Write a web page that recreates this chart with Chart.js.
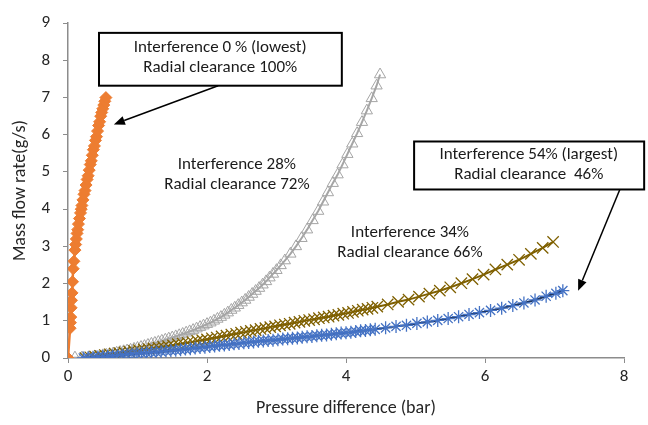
<!DOCTYPE html>
<html>
<head>
<meta charset="utf-8">
<script src="https://cdn.jsdelivr.net/npm/chart.js@4.4.1/dist/chart.umd.min.js"></script>
<style>
  html, body { margin: 0; padding: 0; background: #fff; }
  #wrap { width: 648px; height: 425px; position: relative; }
</style>
</head>
<body>
<div id="wrap"><canvas id="c" width="648" height="425"></canvas></div>
<script>
// Mass flow rate (g/s) against pressure difference (bar), one series per seal geometry.
const seriesNames = [
  'Interference 0 %, radial clearance 100%',
  'Interference 28%, radial clearance 72%',
  'Interference 34%, radial clearance 66%',
  'Interference 54%, radial clearance 46%'
];

// [pressure difference, mass flow rate]
const orangePoints = [
  [0,0],[0.03,0.8],[0.035,0.95],[0.04,1.1],[0.045,1.35],[0.05,1.55],[0.058,1.75],[0.065,2.05],[0.075,2.4],[0.085,2.6],
  [0.1,2.9],[0.11,3.05],[0.12,3.2],[0.13,3.35],[0.14,3.45],[0.15,3.6],[0.165,3.75],[0.18,3.9],[0.19,4.0],[0.2,4.1],
  [0.215,4.25],[0.23,4.4],[0.245,4.5],[0.26,4.65],[0.275,4.8],[0.29,4.9],[0.305,5.05],[0.32,5.2],[0.335,5.3],[0.35,5.45],
  [0.365,5.6],[0.38,5.7],[0.395,5.85],[0.41,5.95],[0.425,6.1],[0.44,6.25],[0.455,6.35],[0.47,6.5],[0.485,6.6],[0.5,6.7],
  [0.515,6.8],[0.53,6.9],[0.545,7.0]
];

const greyPoints = [
  [0,0],[0.1,0.01],[0.2,0.01],[0.3,0.02],[0.4,0.04],[0.5,0.07],[0.55,0.085],[0.6,0.1],[0.65,0.12],[0.7,0.14],
  [0.75,0.16],[0.8,0.18],[0.85,0.2],[0.9,0.22],[0.95,0.245],[1.0,0.27],[1.05,0.295],[1.1,0.32],[1.15,0.35],[1.2,0.38],
  [1.25,0.405],[1.3,0.43],[1.35,0.46],[1.4,0.49],[1.45,0.52],[1.5,0.55],[1.55,0.58],[1.6,0.61],[1.65,0.645],[1.7,0.68],
  [1.75,0.715],[1.8,0.75],[1.85,0.79],[1.9,0.83],[1.95,0.87],[2.0,0.91],[2.05,0.95],[2.1,1.0],[2.15,1.05],[2.2,1.1],
  [2.25,1.16],[2.3,1.22],[2.35,1.29],[2.4,1.35],[2.45,1.42],[2.5,1.49],[2.55,1.56],[2.6,1.64],[2.65,1.72],[2.7,1.8],
  [2.75,1.88],[2.8,1.97],[2.85,2.06],[2.9,2.16],[2.95,2.26],[3.0,2.36],[3.06,2.49],[3.12,2.62],[3.2,2.8],[3.28,3.0],
  [3.36,3.22],[3.44,3.45],[3.52,3.7],[3.6,3.95],[3.67,4.2],[3.74,4.45],[3.81,4.7],[3.88,4.93],[3.95,5.2],[4.02,5.48],
  [4.09,5.76],[4.16,6.04],[4.23,6.34],[4.3,6.65],[4.37,6.98],[4.44,7.32],[4.49,7.62]
];

const brownPoints = [
  [0.25,0.0],[0.32,0.02],[0.39,0.04],[0.46,0.06],[0.53,0.08],[0.6,0.1],[0.67,0.12],[0.74,0.13],[0.81,0.15],[0.88,0.17],
  [0.95,0.19],[1.02,0.21],[1.09,0.23],[1.16,0.24],[1.23,0.26],[1.3,0.28],[1.37,0.3],[1.44,0.32],[1.51,0.34],[1.58,0.37],
  [1.65,0.39],[1.72,0.41],[1.79,0.43],[1.86,0.46],[1.93,0.48],[2.0,0.5],[2.07,0.53],[2.14,0.55],[2.21,0.58],[2.28,0.6],
  [2.35,0.63],[2.42,0.65],[2.49,0.68],[2.56,0.7],[2.63,0.73],[2.7,0.75],[2.77,0.78],[2.84,0.8],[2.91,0.83],[2.98,0.85],
  [3.05,0.88],[3.12,0.9],[3.19,0.92],[3.26,0.95],[3.33,0.97],[3.4,1.0],[3.47,1.02],[3.54,1.04],[3.61,1.07],[3.68,1.09],
  [3.75,1.11],[3.82,1.14],[3.89,1.16],[3.96,1.19],[4.03,1.21],[4.1,1.24],[4.17,1.27],[4.24,1.3],[4.31,1.32],[4.38,1.35],
  [4.45,1.38],[4.6,1.44],[4.75,1.51],[4.9,1.57],[5.05,1.65],[5.2,1.73],[5.35,1.81],[5.5,1.9],[5.66,2.01],[5.82,2.12],
  [5.98,2.24],[6.15,2.38],[6.32,2.51],[6.49,2.64],[6.66,2.8],[6.83,2.96],[6.98,3.12]
];

const bluePoints = [
  [0.22,0.0],[0.29,0.01],[0.36,0.02],[0.43,0.03],[0.5,0.04],[0.57,0.05],[0.64,0.06],[0.71,0.07],[0.78,0.08],[0.85,0.1],
  [0.92,0.11],[0.99,0.12],[1.06,0.13],[1.13,0.14],[1.2,0.15],[1.27,0.16],[1.34,0.17],[1.41,0.19],[1.48,0.2],[1.55,0.21],
  [1.62,0.22],[1.69,0.24],[1.76,0.25],[1.83,0.27],[1.9,0.28],[1.97,0.29],[2.04,0.31],[2.11,0.32],[2.18,0.34],[2.25,0.35],
  [2.32,0.36],[2.39,0.38],[2.46,0.39],[2.53,0.41],[2.6,0.42],[2.67,0.43],[2.74,0.45],[2.81,0.46],[2.88,0.47],[2.95,0.48],
  [3.02,0.49],[3.09,0.51],[3.16,0.52],[3.23,0.53],[3.3,0.54],[3.37,0.56],[3.44,0.57],[3.51,0.58],[3.58,0.6],[3.65,0.61],
  [3.72,0.62],[3.79,0.64],[3.86,0.65],[3.93,0.67],[4.0,0.68],[4.07,0.69],[4.14,0.71],[4.21,0.73],[4.28,0.74],[4.35,0.76],
  [4.42,0.77],[4.57,0.81],[4.72,0.85],[4.87,0.88],[5.02,0.93],[5.17,0.97],[5.32,1.01],[5.47,1.06],[5.62,1.11],[5.77,1.17],
  [5.92,1.22],[6.08,1.28],[6.24,1.34],[6.4,1.41],[6.56,1.48],[6.72,1.56],[6.88,1.66],[7.02,1.74],[7.12,1.81]
];

// Axis ranges and tick steps
const xTicks = [0, 2, 4, 6, 8];
const yTicks = [0, 1, 2, 3, 4, 5, 6, 7, 8, 9];

const FONT = 'Carlito, Lato, "Open Sans", sans-serif';
const toXY = pts => pts.map(p => ({ x: p[0], y: p[1] }));

// Callout boxes, free labels and arrows, placed in data units
const callouts = {
  boxes: [
    { x0: 0.446, x1: 3.94, y0: 8.74, y1: 7.32,
      lines: [['Interference 0 % (lowest)', 2.19, 8.34], ['Radial clearance 100%', 2.19, 7.8]] },
    { x0: 4.98, x1: 8.29, y0: 5.82, y1: 4.53,
      lines: [['Interference 54% (largest)', 6.63, 5.47], ['Radial clearance  46%', 6.63, 4.93]] }
  ],
  labels: [
    ['Interference 28%', 2.43, 5.2], ['Radial clearance 72%', 2.43, 4.65],
    ['Interference 34%', 4.92, 3.36], ['Radial clearance 66%', 4.92, 2.82]
  ],
  arrows: [
    { from: [2.16, 7.32], to: [0.66, 6.28] },
    { from: [7.94, 4.53], to: [7.34, 1.81] }
  ]
};

const calloutPlugin = {
  id: 'callouts',
  afterDatasetsDraw(chart) {
    const { ctx } = chart;
    const sx = chart.scales.x, sy = chart.scales.y;
    const px = v => sx.getPixelForValue(v), py = v => sy.getPixelForValue(v);
    ctx.save();
    ctx.font = '17px ' + FONT;
    ctx.textAlign = 'center';
    ctx.textBaseline = 'middle';

    // arrows
    ctx.strokeStyle = '#000';
    ctx.lineWidth = 1.5;
    callouts.arrows.forEach(a => {
      const x0 = px(a.from[0]), y0 = py(a.from[1]);
      const x1 = px(a.to[0]), y1 = py(a.to[1]);
      const ang = Math.atan2(y1 - y0, x1 - x0);
      const L = 11, W = 4.5;
      const bx = x1 - L * Math.cos(ang), by = y1 - L * Math.sin(ang);
      ctx.beginPath();
      ctx.moveTo(x0, y0);
      ctx.lineTo(bx, by);
      ctx.stroke();
      ctx.beginPath();
      ctx.moveTo(x1, y1);
      ctx.lineTo(bx + W * Math.sin(ang), by - W * Math.cos(ang));
      ctx.lineTo(bx - W * Math.sin(ang), by + W * Math.cos(ang));
      ctx.closePath();
      ctx.fillStyle = '#000';
      ctx.fill();
    });

    // boxes
    callouts.boxes.forEach(b => {
      const l = px(b.x0), r = px(b.x1), t = py(b.y0), btm = py(b.y1);
      ctx.fillStyle = '#fff';
      ctx.fillRect(l, t, r - l, btm - t);
      ctx.lineWidth = 2;
      ctx.strokeStyle = '#000';
      ctx.strokeRect(l, t, r - l, btm - t);
      ctx.fillStyle = '#1a1a1a';
      b.lines.forEach(([s, x, y]) => ctx.fillText(s, px(x), py(y)));
    });

    // free labels
    ctx.fillStyle = '#1a1a1a';
    callouts.labels.forEach(([s, x, y]) => ctx.fillText(s, px(x), py(y)));
    ctx.restore();
  }
};

const whiteBg = {
  id: 'whiteBg',
  beforeDraw(chart) {
    const c = chart.ctx;
    c.save();
    c.fillStyle = '#fff';
    c.fillRect(0, 0, chart.width, chart.height);
    c.restore();
  }
};

new Chart(document.getElementById('c'), {
  type: 'scatter',
  data: {
    datasets: [
      { label: seriesNames[0], data: toXY(orangePoints), showLine: true,
        borderColor: '#ED7D31', backgroundColor: '#ED7D31', borderWidth: 2.5,
        pointStyle: 'rectRot', pointRadius: 6, pointBorderWidth: 1,
        pointBorderColor: '#ED7D31', pointBackgroundColor: '#ED7D31' },
      { label: seriesNames[3], data: toXY(bluePoints), showLine: true,
        borderColor: '#1F3864', borderWidth: 2,
        pointStyle: 'star', pointRadius: 6.5, pointBorderWidth: 1.3,
        pointBorderColor: '#4472C4', pointBackgroundColor: '#4472C4' },
      { label: seriesNames[2], data: toXY(brownPoints), showLine: true,
        borderColor: '#7F6000', borderWidth: 2,
        pointStyle: 'crossRot', pointRadius: 8, pointBorderWidth: 1.3,
        pointBorderColor: '#7F6000', pointBackgroundColor: '#7F6000' },
      { label: seriesNames[1], data: toXY(greyPoints), showLine: true,
        borderColor: '#A5A5A5', borderWidth: 2,
        pointStyle: 'triangle', pointRadius: 6.5, pointBorderWidth: 1,
        pointBorderColor: '#A5A5A5', pointBackgroundColor: 'rgba(255,255,255,0)' }
    ]
  },
  options: {
    responsive: false,
    animation: false,
    layout: { padding: { left: 0, right: 24, top: 10, bottom: 0 } },
    plugins: {
      legend: { display: false },
      tooltip: { enabled: false }
    },
    scales: {
      x: {
        type: 'linear', min: xTicks[0], max: xTicks[xTicks.length - 1],
        afterBuildTicks: s => { s.ticks = xTicks.map(v => ({ value: v })); },
        afterFit: s => { s.height = 67; },
        grid: { drawOnChartArea: false, drawTicks: true, tickLength: 5, color: '#8C8C8C' },
        border: { color: '#8C8C8C', width: 1.5 },
        ticks: { font: { family: FONT, size: 17 }, color: '#262626', padding: 4 },
        title: { display: true, text: 'Pressure difference (bar)',
                 font: { family: FONT, size: 18 }, color: '#262626', padding: { top: 0, bottom: 6 } }
      },
      y: {
        type: 'linear', min: yTicks[0], max: yTicks[yTicks.length - 1],
        afterBuildTicks: s => { s.ticks = yTicks.map(v => ({ value: v })); },
        afterFit: s => { s.width = 68; },
        grid: { drawOnChartArea: false, drawTicks: true, tickLength: 5, color: '#8C8C8C' },
        border: { color: '#8C8C8C', width: 1.5 },
        ticks: { font: { family: FONT, size: 17 }, color: '#262626', padding: 13 },
        title: { display: true, text: 'Mass flow rate(g/s)',
                 font: { family: FONT, size: 18 }, color: '#262626', padding: { top: 10 } }
      }
    }
  },
  plugins: [whiteBg, calloutPlugin]
});
</script>
</body>
</html>
